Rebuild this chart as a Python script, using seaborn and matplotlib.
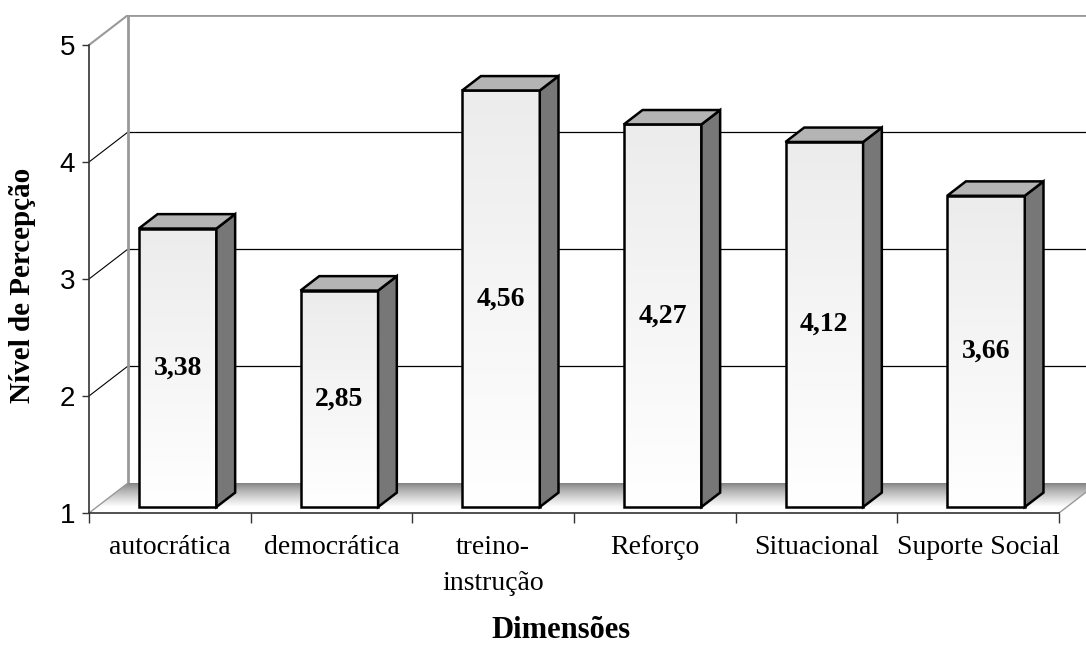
# -*- coding: utf-8 -*-
import numpy as np
import pandas as pd
import matplotlib
matplotlib.use('Agg')
import matplotlib.pyplot as plt
import matplotlib.colors as mcolors
from matplotlib.patches import Polygon
import seaborn as sns

categorias = ['autocrática', 'democrática', 'treino-\ninstrução', 'Reforço', 'Situacional', 'Suporte Social']
valores = [3.38, 2.85, 4.56, 4.27, 4.12, 3.66]
rotulos = ['3,38', '2,85', '4,56', '4,27', '4,12', '3,66']
yticks = [1, 2, 3, 4, 5]

sns.set_style('ticks')
plt.rcParams['font.family'] = ['Liberation Serif', 'DejaVu Serif']
plt.rcParams['text.color'] = 'black'
plt.rcParams['xtick.labelcolor'] = 'black'
plt.rcParams['ytick.labelcolor'] = 'black'

W, H = 1086, 655
fig = plt.figure(figsize=(W / 100, H / 100), dpi=100)

# plot area in pixels: front y-axis at x=89, value 1 at y=513, back wall top at y=15
px_x = 970 / 6.0       # pixels per category
px_y = 117.0           # pixels per unit
left, right, bottom, top = 89, 1086, 513, 15
ax = fig.add_axes([left / W, 1 - bottom / H, (right - left) / W, (bottom - top) / H])
xmin, xmax = -0.5, -0.5 + (right - left) / px_x
ymin, ymax = 1, 1 + (bottom - top) / px_y

DX, DY = 39 / px_x, 30 / px_y      # depth of the whole chart
f0, fd = 0.2, 0.48                 # bar front offset and bar depth (fraction)
bdx, bdy = fd * DX, fd * DY

# back wall
ax.add_patch(Polygon([(xmin + DX, 1 + DY), (xmax + 1, 1 + DY), (xmax + 1, 5 + DY), (xmin + DX, 5 + DY)],
                     closed=True, facecolor='white', edgecolor='none', zorder=0))
for k in [2, 3, 4]:
    ax.plot([xmin + DX, xmax + 1], [k + DY, k + DY], color='black', lw=0.9, zorder=1)
    ax.plot([xmin, xmin + DX], [k, k + DY], color='black', lw=0.8, zorder=1)
ax.plot([xmin + DX, xmin + DX, xmax + 1], [1 + DY, 5 + DY, 5 + DY], color='#999999', lw=2, zorder=1.5)
ax.plot([xmin, xmin + DX], [5, 5 + DY], color='#999999', lw=1.5, zorder=1.5)

# floor with gradient
floor = Polygon([(xmin, 1), (5.5, 1), (5.5 + DX, 1 + DY), (xmin + DX, 1 + DY)],
                closed=True, facecolor='none', edgecolor='none', zorder=2)
ax.add_patch(floor)
t = np.linspace(0, 1, 200)
g = 0.5 + 0.5 * np.clip(t / 0.8, 0, 1) ** 0.8
floor_cmap = mcolors.LinearSegmentedColormap.from_list('fl', ['#000000', '#ffffff'])
im = ax.imshow(g[:, None], cmap=floor_cmap, vmin=0, vmax=1, aspect='auto', origin='upper',
               extent=[xmin, 5.5 + DX, 1, 1 + DY], zorder=2)
im.set_clip_path(floor)
ax.plot([xmin, xmin + DX], [1, 1 + DY], color='#999999', lw=1, zorder=2.5)
ax.plot([5.5, 5.5 + DX], [1, 1 + DY], color='#999999', lw=1, zorder=2.5)

# front faces of the bars
df = pd.DataFrame({'dim': categorias, 'alt': [v - 1 for v in valores]})
n_before = len(ax.patches)
sns.barplot(data=df, x='dim', y='alt', color='white', width=0.48, edgecolor='black',
            linewidth=1.8, ax=ax)
barras = ax.patches[n_before:]

front_cmap = mcolors.LinearSegmentedColormap.from_list('fr', ['#ececec', '#ffffff'])
for p, v, lab in zip(barras, valores, rotulos):
    p.set_y(1 + f0 * DY)
    p.set_x(p.get_x() + f0 * DX)
    p.set_facecolor('none')
    p.set_zorder(6)
    x0, w = p.get_x(), p.get_width()
    y0, y1 = p.get_y(), p.get_y() + p.get_height()
    gi = ax.imshow(np.linspace(0, 1, 100)[:, None], cmap=front_cmap, aspect='auto', origin='upper',
                   extent=[x0, x0 + w, y0, y1], zorder=5)
    gi.set_clip_path(p)
    # side face
    ax.add_patch(Polygon([(x0 + w, y0), (x0 + w + bdx, y0 + bdy), (x0 + w + bdx, y1 + bdy), (x0 + w, y1)],
                         closed=True, facecolor='#777777', edgecolor='black', lw=1.8, zorder=6))
    # top face
    ax.add_patch(Polygon([(x0, y1), (x0 + w, y1), (x0 + w + bdx, y1 + bdy), (x0 + bdx, y1 + bdy)],
                         closed=True, facecolor='#b4b4b4', edgecolor='black', lw=1.8, zorder=6))
    ax.text(x0 + w / 2, (y0 + y1) / 2, lab, ha='center', va='center', fontsize=20,
            fontweight='bold', zorder=7)

ax.set_xlim(xmin, xmax)
ax.set_ylim(ymin, ymax)
for s in ['top', 'right']:
    ax.spines[s].set_visible(False)
ax.spines['left'].set_bounds(1, 5)
ax.spines['bottom'].set_bounds(-0.5, 5.5)
for s in ['left', 'bottom']:
    ax.spines[s].set_color('#333333')
    ax.spines[s].set_linewidth(1.2)
    ax.spines[s].set_zorder(3)

ax.set_yticks(yticks)
ax.set_yticklabels([str(v) for v in yticks], family=['Liberation Sans', 'DejaVu Sans'], fontsize=20)
ax.tick_params(axis='y', length=5, width=1, color='#333333', pad=5)
ax.set_xticks(range(len(categorias)))
ax.set_xticklabels(categorias, fontsize=20, linespacing=1.55)
ax.set_xticks(np.arange(-0.5, 6, 1), minor=True)
ax.tick_params(axis='x', which='major', length=0, pad=16)
ax.tick_params(axis='x', which='minor', length=7, width=1, color='#333333', direction='out')
ax.set_xlabel('')
ax.set_ylabel('')

fig.text(23 / W, 1 - 285 / H, 'Nível de Percepção', rotation=90, ha='center', va='center',
         fontsize=21, fontweight='bold')
fig.text(561 / W, 1 - 630 / H, 'Dimensões', ha='center', va='center', fontsize=22, fontweight='bold')

fig.savefig('out.png', dpi=100)
